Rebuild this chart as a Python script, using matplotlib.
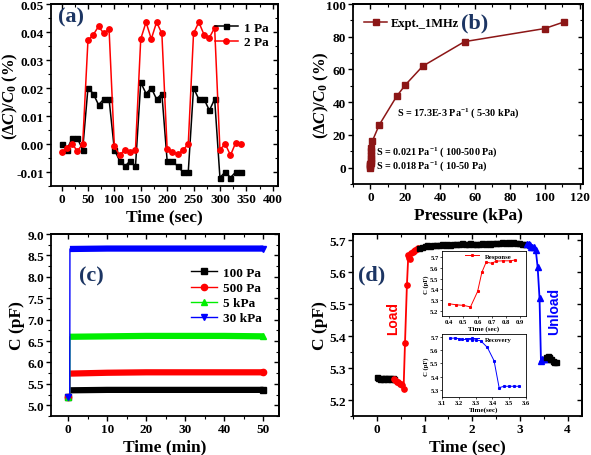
import matplotlib
matplotlib.use("Agg")
import matplotlib.pyplot as plt
from matplotlib.ticker import MultipleLocator, AutoMinorLocator, FormatStrFormatter

plt.rcParams['font.family'] = ['Liberation Serif', 'DejaVu Serif']
plt.rcParams['font.weight'] = 'bold'
plt.rcParams['axes.labelweight'] = 'bold'
plt.rcParams['mathtext.fontset'] = 'custom'
plt.rcParams['mathtext.rm'] = 'Liberation Serif:bold'
plt.rcParams['mathtext.it'] = 'Liberation Serif:bold:italic'
plt.rcParams['mathtext.bf'] = 'Liberation Serif:bold'

# ---------------- data ----------------
# (a)
t_a = [0, 10, 20, 30, 40, 50, 60, 70, 80, 90, 100, 110, 120, 130, 140, 150, 160, 170, 180, 190,
       200, 210, 220, 230, 240, 250, 260, 270, 280, 290, 300, 310, 320, 330, 340]
a_1pa = [0.000, -0.002, 0.002, 0.002, -0.002, 0.020, 0.018, 0.014, 0.016, 0.016,
         -0.002, -0.006, -0.008, -0.006, -0.008, 0.022, 0.018, 0.020, 0.016, 0.018,
         -0.006, -0.006, -0.008, -0.010, -0.010, 0.020, 0.016, 0.016, 0.012, 0.016,
         -0.012, -0.010, -0.012, -0.010, -0.010]
a_2pa = [-0.0027, -0.0015, 0.000, -0.0025, 0.000, 0.037, 0.039, 0.042, 0.0395, 0.041,
         -0.0008, -0.004, -0.002, -0.003, -0.002, 0.0375, 0.0435, 0.0375, 0.0435, 0.0395,
         -0.0017, -0.0027, -0.0037, -0.0022, 0.000, 0.0395, 0.0435, 0.039, 0.038, 0.0415,
         -0.002, 0.000, -0.004, 0.0005, 0.000]

# (b)
p_b = [0.01, 0.02, 0.03, 0.04, 0.05, 0.1, 0.2, 0.3, 0.4, 0.5, 1, 5, 15, 20, 30, 54, 100, 111]
r_b = [0.0, 0.8, 1.6, 2.4, 3.0, 4.0, 6.0, 8.0, 10.0, 11.8, 16, 26, 43.5, 50.5, 62, 77, 85, 89]

# (c)
t_c = [0, 0.4, 0.45, 10, 20, 30, 40, 50]
c_100 = [5.20, 5.20, 5.35, 5.36, 5.36, 5.36, 5.36, 5.36]
c_500 = [5.20, 5.20, 5.74, 5.76, 5.77, 5.77, 5.77, 5.77]
c_5k = [5.20, 5.20, 6.60, 6.61, 6.62, 6.62, 6.62, 6.61]
c_30k = [5.20, 5.20, 8.65, 8.66, 8.66, 8.66, 8.66, 8.66]

# (d)
t_pre = [0.00, 0.03, 0.06, 0.09, 0.12, 0.15, 0.18, 0.21, 0.24, 0.27, 0.30, 0.33, 0.36]
c_pre = [5.272, 5.270, 5.266, 5.268, 5.265, 5.268, 5.270, 5.266, 5.268, 5.270, 5.267, 5.270, 5.266]
t_load = [0.36, 0.39, 0.42, 0.45, 0.48, 0.51, 0.53, 0.56, 0.59, 0.63, 0.66, 0.68, 0.70, 0.72,
          0.75, 0.78, 0.81, 0.84, 0.87]
c_load = [5.266, 5.262, 5.258, 5.255, 5.250, 5.250, 5.246, 5.234, 5.379, 5.560, 5.655, 5.646,
          5.643, 5.662, 5.665, 5.668, 5.670, 5.672, 5.676]
t_hold = [0.88, 0.94, 1.00, 1.06, 1.12, 1.18, 1.24, 1.30, 1.36, 1.42, 1.48, 1.54, 1.60, 1.66,
          1.72, 1.78, 1.84, 1.90, 1.96, 2.02, 2.08, 2.14, 2.20, 2.26, 2.32, 2.38, 2.44, 2.50,
          2.56, 2.62, 2.68, 2.74, 2.80, 2.86, 2.92, 2.98, 3.04, 3.10]
c_hold = [5.676, 5.680, 5.682, 5.684, 5.683, 5.686, 5.684, 5.686, 5.688, 5.686, 5.689, 5.687,
          5.690, 5.688, 5.689, 5.691, 5.688, 5.690, 5.692, 5.689, 5.690, 5.688, 5.691, 5.689,
          5.692, 5.690, 5.693, 5.691, 5.692, 5.694, 5.692, 5.695, 5.693, 5.696, 5.693, 5.692,
          5.690, 5.689]
t_unload = [3.15, 3.18, 3.20, 3.23, 3.26, 3.29, 3.33, 3.37, 3.41, 3.44, 3.47, 3.50, 3.53, 3.56]
c_unload = [5.688, 5.690, 5.686, 5.680, 5.678, 5.678, 5.670, 5.617, 5.518, 5.322, 5.330,
            5.330, 5.330, 5.330]
t_post = [3.55, 3.58, 3.61, 3.63, 3.66, 3.69, 3.72, 3.75]
c_post = [5.335, 5.338, 5.335, 5.330, 5.328, 5.322, 5.320, 5.318]

# insets
t_resp = [0.40, 0.45, 0.50, 0.55, 0.60, 0.63, 0.66, 0.70, 0.73, 0.78, 0.83, 0.86]
c_resp = [5.265, 5.255, 5.250, 5.235, 5.380, 5.560, 5.655, 5.645, 5.665, 5.668, 5.668, 5.675]
t_rec = [3.15, 3.18, 3.20, 3.22, 3.25, 3.28, 3.30, 3.33, 3.37, 3.41, 3.44, 3.47, 3.50, 3.53, 3.56]
c_rec = [5.688, 5.690, 5.685, 5.680, 5.678, 5.678, 5.675, 5.670, 5.620, 5.520, 5.320, 5.330,
         5.330, 5.330, 5.330]

LABEL_COLOR = '#1c3563'
W, H = 591, 456
fig = plt.figure(figsize=(W / 100, H / 100), dpi=100)


def rect(l, r, t, b):
    return [l / W, 1 - b / H, (r - l) / W, (b - t) / H]


def style(ax, tick_fs=9.5, lw=1.3, maj=3.5, mnr=2):
    for s in ax.spines.values():
        s.set_linewidth(lw)
    ax.tick_params(which='major', direction='out', length=maj, width=1.0, labelsize=tick_fs,
                   top=False, right=False, pad=1.5)
    ax.tick_params(which='minor', direction='out', length=mnr, width=0.8, top=False, right=False)
    ax.xaxis.set_minor_locator(AutoMinorLocator(2))
    ax.yaxis.set_minor_locator(AutoMinorLocator(2))
    sec_x = ax.secondary_xaxis('top')
    sec_y = ax.secondary_yaxis('right')
    for sec, axis in ((sec_x, 'x'), (sec_y, 'y')):
        sec.tick_params(which='major', direction='in', length=maj, width=1.0, labelsize=0)
        sec.tick_params(which='minor', direction='in', length=mnr, width=0.8)
        if axis == 'x':
            sec.xaxis.set_major_locator(ax.xaxis.get_major_locator())
            sec.xaxis.set_minor_locator(AutoMinorLocator(2))
            sec.set_xticklabels([])
        else:
            sec.yaxis.set_major_locator(ax.yaxis.get_major_locator())
            sec.yaxis.set_minor_locator(AutoMinorLocator(2))
            sec.set_yticklabels([])
        for s in sec.spines.values():
            s.set_linewidth(lw)


def labels(ax, xl, yl, xly, ylx, yfs=12.5):
    ax.set_xlabel(xl, fontsize=12.5)
    ax.set_ylabel(yl, fontsize=yfs)
    ax.xaxis.set_label_coords(0.5, xly)
    ax.yaxis.set_label_coords(ylx, 0.5)


ylab_a = r'$(\Delta C)/C_{\mathit{0}}$ (%)'

# ---------------- (a) ----------------
ax = fig.add_axes(rect(51, 278, 5, 187))
ax.plot(t_a, a_1pa, '-s', color='black', ms=3.6, lw=1.1, label='1 Pa')
ax.plot(t_a, a_2pa, '-o', color='red', ms=3.9, lw=1.1, label='2 Pa')
ax.set_xlim(-20, 410)
ax.set_ylim(-0.015, 0.05)
ax.xaxis.set_major_locator(MultipleLocator(50))
ax.yaxis.set_major_locator(MultipleLocator(0.01))
ax.yaxis.set_major_formatter(FormatStrFormatter('%.2f'))
style(ax)
labels(ax, 'Time (sec)', ylab_a, -0.125, -0.137, yfs=12)
ax.legend(loc='upper right', frameon=False, fontsize=9.5, handlelength=1.8, handletextpad=0.4,
          bbox_to_anchor=(1.01, 0.97), labelspacing=0.2)
ax.text(0.03, 0.93, '(a)', transform=ax.transAxes, fontsize=16, fontweight='bold',
        color=LABEL_COLOR, va='center', ha='left')

# ---------------- (b) ----------------
ax = fig.add_axes(rect(353, 583, 5, 185))
ax.plot(p_b, r_b, '-s', color='#8c1616', ms=4.8, lw=1.1, label='Expt._1MHz')
ax.set_xlim(-10, 122)
ax.set_ylim(-10, 100)
ax.xaxis.set_major_locator(MultipleLocator(20))
ax.yaxis.set_major_locator(MultipleLocator(20))
style(ax)
labels(ax, 'Pressure (kPa)', ylab_a, -0.122, -0.096, yfs=12)
ax.legend(loc='upper left', frameon=False, fontsize=9, handlelength=1.8, handletextpad=0.3,
          bbox_to_anchor=(0.0, 0.99))
ax.text(0.53, 0.90, '(b)', transform=ax.transAxes, fontsize=16, fontweight='bold',
        color=LABEL_COLOR, va='center', ha='center')
ax.text(15, 34, r'S = 17.3E-3 Pa$^{\mathregular{-1}}$ ( 5-30 kPa)', fontsize=7.3, va='center')
ax.text(3, 10.4, r'S = 0.021 Pa$^{\mathregular{-1}}$ ( 100-500 Pa)', fontsize=7.3, va='center')
ax.text(3, 1.5, r'S = 0.018 Pa$^{\mathregular{-1}}$ ( 10-50 Pa)', fontsize=7.3, va='center')

# ---------------- (c) ----------------
ax = fig.add_axes(rect(51, 279, 235, 417))
series_c = [(c_100, 'black', 's', '100 Pa'), (c_500, 'red', 'o', '500 Pa'),
            (c_5k, '#00ee00', '^', '5 kPa'), (c_30k, 'blue', 'v', '30 kPa')]
for vals, col, mk, lab in series_c:
    ax.plot(t_c, vals, '-', marker=mk, markevery=[0, len(t_c) - 1], color=col, ms=4.5, lw=1.0,
            label=lab)
    ax.plot(t_c[2:], vals[2:], '-', color=col, lw=4.5, solid_capstyle='butt')
ax.set_xlim(-4.4, 54)
ax.set_ylim(4.75, 9.0)
ax.xaxis.set_major_locator(MultipleLocator(10))
ax.yaxis.set_major_locator(MultipleLocator(0.5))
ax.yaxis.set_major_formatter(FormatStrFormatter('%.1f'))
style(ax)
labels(ax, 'Time (min)', 'C (pF)', -0.125, -0.114)
ax.legend(loc='upper right', frameon=False, fontsize=9.5, handlelength=2.0, handletextpad=0.4,
          bbox_to_anchor=(0.975, 0.885), labelspacing=0.22)
ax.text(0.125, 0.77, '(c)', transform=ax.transAxes, fontsize=16, fontweight='bold',
        color=LABEL_COLOR, va='center', ha='left')

# ---------------- (d) ----------------
ax = fig.add_axes(rect(353, 582, 235, 417))
ax.plot(t_pre, c_pre, '-s', color='black', ms=3.6, lw=1.0)
ax.plot(t_load, c_load, '-o', color='red', ms=3.8, lw=1.3)
ax.plot(t_hold, c_hold, '-s', color='black', ms=3.6, lw=1.0)
ax.plot(t_unload, c_unload, '-^', color='blue', ms=4.2, lw=1.3)
ax.plot(t_post, c_post, '-s', color='black', ms=3.6, lw=1.0)
ax.set_xlim(-0.5, 4.3)
ax.set_ylim(5.15, 5.72)
ax.xaxis.set_major_locator(MultipleLocator(1))
ax.yaxis.set_major_locator(MultipleLocator(0.1))
ax.yaxis.set_major_formatter(FormatStrFormatter('%.1f'))
style(ax)
labels(ax, 'Time (sec)', 'C (pF)', -0.125, -0.109)
ax.text(0.022, 0.78, '(d)', transform=ax.transAxes, fontsize=16, fontweight='bold',
        color=LABEL_COLOR, va='center', ha='left')
ax.text(0.34, 5.458, 'Load', color='red', rotation=90, fontsize=10, fontweight='bold',
        family='Liberation Sans', va='center', ha='center')
ax.text(3.72, 5.482, 'Unload', color='blue', rotation=90, fontsize=10, fontweight='bold',
        family='Liberation Sans', va='center', ha='center')

# insets
for (l, r, t, b), tt, cc, col, lab, xl, yl, xt, ylim_ in [
        ((442, 526, 252, 317), t_resp, c_resp, 'red', 'Response', (0.35, 0.94),
         'Time (sec)', [0.4, 0.5, 0.6, 0.7, 0.8, 0.9], (5.15, 5.76)),
        ((442, 526, 335, 398), t_rec, c_rec, 'blue', 'Recovery', (3.1, 3.6),
         'Time(sec)', [3.1, 3.2, 3.3, 3.4, 3.5, 3.6], (5.25, 5.72))]:
    ia = fig.add_axes(rect(l, r, t, b))
    ia.plot(tt, cc, '-', marker='s', color=col, ms=1.2, lw=0.7, label=lab)
    ia.set_xlim(*xl)
    ia.set_ylim(*ylim_)
    ia.set_xticks(xt)
    ia.yaxis.set_major_locator(MultipleLocator(0.1))
    ia.yaxis.set_major_formatter(FormatStrFormatter('%.1f'))
    for s in ia.spines.values():
        s.set_linewidth(0.6)
    ia.tick_params(direction='out', length=1.5, width=0.5, labelsize=4.8, pad=1)
    ia.set_xlabel(yl, fontsize=5, labelpad=0.5)
    ia.set_ylabel('C (pF)', fontsize=4.8, labelpad=1)
    ia.legend(loc='upper center', frameon=False, fontsize=4.8, handlelength=2.2,
              bbox_to_anchor=(0.55, 1.03), borderaxespad=0.2)

fig.savefig('out.png', dpi=100)
